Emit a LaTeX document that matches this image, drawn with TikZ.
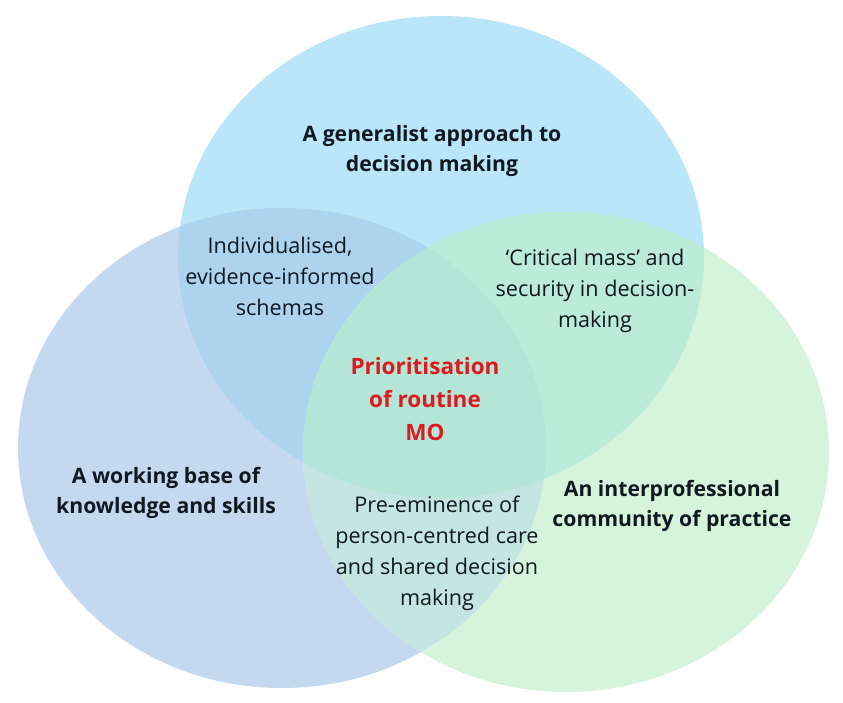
\documentclass[tikz,border=0pt]{standalone}
\usepackage{fontspec}
\setmainfont{Open Sans}
\definecolor{colT}{HTML}{BBE5F8}
\definecolor{colL}{HTML}{C4D9F0}
\definecolor{colG}{HTML}{D6F4DC}
\definecolor{colTL}{HTML}{ADD3EF}
\definecolor{colTG}{HTML}{BCEBDA}
\definecolor{colLG}{HTML}{C4E5E2}
\definecolor{colTLG}{HTML}{B5E5D6}
\definecolor{txt}{HTML}{101820}
\definecolor{redtxt}{HTML}{DA1B1F}
\tikzset{
  lbl/.style={align=center, font=\fontsize{21.6}{31}\selectfont, text=txt, inner sep=0pt},
  blbl/.style={lbl, font=\fontsize{21.2}{30}\selectfont\bfseries},
  rlbl/.style={lbl, font=\fontsize{22.5}{33}\selectfont\bfseries, text=redtxt}
}
\newcommand{\pathT}{(441,257) ellipse [x radius=263pt, y radius=241pt]}
\newcommand{\pathL}{(282,448) ellipse [x radius=264pt, y radius=240pt]}
\newcommand{\pathG}{(566,452) ellipse [x radius=263pt, y radius=240pt]}
\begin{document}
\begin{tikzpicture}[x=1pt,y=-1pt]
\useasboundingbox (0,0) rectangle (843,703);
\fill[white] (0,0) rectangle (843,703);
\fill[colT] \pathT;
\fill[colL] \pathL;
\fill[colG] \pathG;
\begin{scope}\clip \pathT; \fill[colTL] \pathL; \end{scope}
\begin{scope}\clip \pathT; \fill[colTG] \pathG; \end{scope}
\begin{scope}\clip \pathL; \fill[colLG] \pathG; \end{scope}
\begin{scope}\clip \pathT; \clip \pathL; \fill[colTLG] \pathG; \end{scope}

\node[blbl] (gen) at (432,151) {A generalist approach to\\decision making};
\node[lbl] (ind) at (280,276) {Individualised,\\evidence-informed\\schemas};
\node[lbl] (crit) at (595,291) {‘Critical mass’ and\\security in decision-\\making};
\node[rlbl] (prio) at (425,399) {Prioritisation\\of routine\\MO};
\node[blbl] (work) at (166,493) {A working base of\\knowledge and skills};
\node[blbl] (inter) at (672,506) {An interprofessional\\community of practice};
\node[lbl] (pre) at (437,553) {Pre-eminence of\\person-centred care\\and shared decision\\making};
\end{tikzpicture}
\end{document}
